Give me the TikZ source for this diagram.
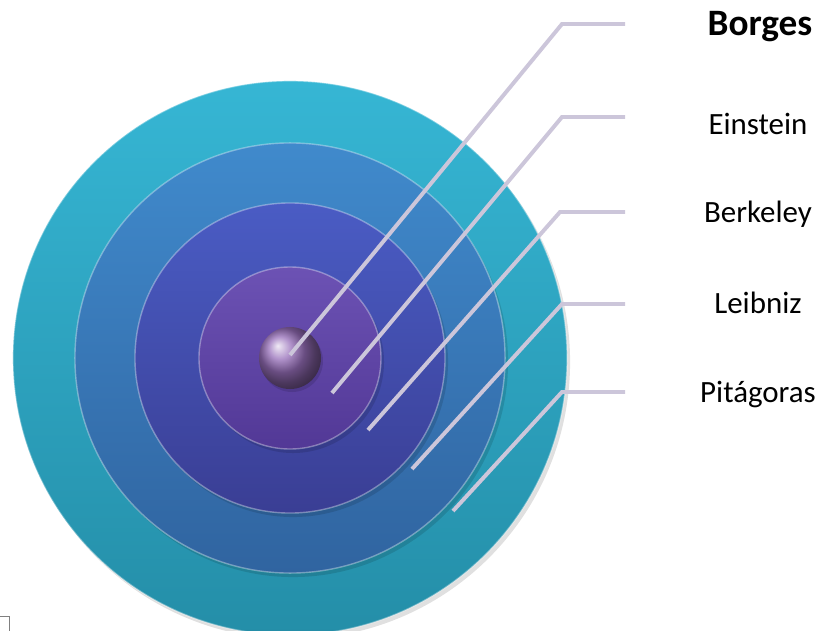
\documentclass[tikz,border=0pt]{standalone}
\usepackage{fontspec}
\setmainfont{Carlito}
\definecolor{ringAtop}{RGB}{54,182,212}
\definecolor{ringAbot}{RGB}{36,142,168}
\definecolor{ringBtop}{RGB}{64,138,204}
\definecolor{ringBbot}{RGB}{48,100,160}
\definecolor{ringCtop}{RGB}{74,92,196}
\definecolor{ringCbot}{RGB}{58,62,148}
\definecolor{ringDtop}{RGB}{108,82,180}
\definecolor{ringDbot}{RGB}{82,56,150}
\definecolor{coreball}{RGB}{150,110,185}
\definecolor{leadergray}{RGB}{204,198,218}

\begin{document}
\begin{tikzpicture}[
    x=0.025cm, y=-0.025cm,
    disc/.style={draw=white, draw opacity=0.35, line width=1pt},
    dropshade/.style={fill=black, opacity=0.12},
    leader/.style={draw=leadergray, line width=2.8pt},
    lbl/.style={font=\fontsize{22}{26}\selectfont, text=black, anchor=base}
]
\useasboundingbox (0,0) rectangle (822,631);

% Centre of the target
\coordinate (ctr) at (290,358);

% Rings, outer to inner
\fill[dropshade] ([shift={(3,4)}]ctr) circle [radius=6.925cm];
\shade[disc, top color=ringAtop, bottom color=ringAbot] (ctr) circle [radius=6.925cm];
\fill[dropshade] ([shift={(3,4)}]ctr) circle [radius=5.375cm];
\shade[disc, top color=ringBtop, bottom color=ringBbot] (ctr) circle [radius=5.375cm];
\fill[dropshade] ([shift={(3,4)}]ctr) circle [radius=3.875cm];
\shade[disc, top color=ringCtop, bottom color=ringCbot] (ctr) circle [radius=3.875cm];
\fill[dropshade] ([shift={(3,4)}]ctr) circle [radius=2.275cm];
\shade[disc, top color=ringDtop, bottom color=ringDbot] (ctr) circle [radius=2.275cm];
\fill[dropshade] ([shift={(2,3)}]ctr) circle [radius=0.775cm];
\shade[ball color=coreball] (ctr) circle [radius=0.775cm];

% Leader ends inside the rings
\coordinate (inBorges) at (290,355);
\coordinate (inEinstein) at (332,393);
\coordinate (inBerkeley) at (368,430);
\coordinate (inLeibniz) at (412,469);
\coordinate (inPitagoras) at (453,511);

% Labels
\node[lbl, font=\fontsize{26.5}{30}\selectfont\bfseries] (borges) at (760,35) {Borges};
\node[lbl] (einstein) at (758,134) {Einstein};
\node[lbl] (berkeley) at (758,222) {Berkeley};
\node[lbl] (leibniz) at (758,313) {Leibniz};
\node[lbl] (pitagoras) at (758,402) {Pitágoras};

% Leader start points on the label side
\coordinate (outBorges) at (625,24);
\coordinate (outEinstein) at (625,117);
\coordinate (outBerkeley) at (625,212);
\coordinate (outLeibniz) at (625,304);
\coordinate (outPitagoras) at (625,392);

% Leaders
\draw[leader] (outBorges) -- (562,24) -- (inBorges);
\draw[leader] (outEinstein) -- (562,117) -- (inEinstein);
\draw[leader] (outBerkeley) -- (560,212) -- (inBerkeley);
\draw[leader] (outLeibniz) -- (562,304) -- (inLeibniz);
\draw[leader] (outPitagoras) -- (562,392) -- (inPitagoras);

% Corner mark
\draw[gray, line width=0.6pt] (0,616) -- (9,616) -- (9,631);
\end{tikzpicture}
\end{document}
